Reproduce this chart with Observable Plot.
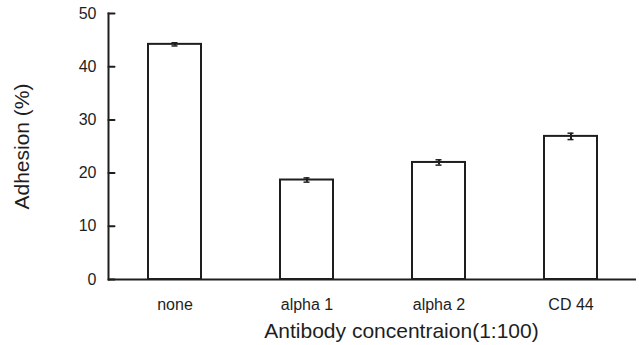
<!DOCTYPE html>
<html>
<head>
<meta charset="utf-8">
<script src="https://cdn.jsdelivr.net/npm/d3@7"></script>
<script src="https://cdn.jsdelivr.net/npm/@observablehq/plot@0.6"></script>
<style>
  html, body { margin: 0; padding: 0; background: #fff; }
  #chart svg { display: block; }
</style>
</head>
<body>
<div id="chart"></div>
<script>
const categories = ["none", "alpha 1", "alpha 2", "CD 44"];
const values = [44.2, 18.7, 22.0, 26.9];
const errors = [0.3, 0.4, 0.5, 0.6];
const yTicks = [0, 10, 20, 30, 40, 50];
const xTitle = "Antibody concentraion(1:100)";
const yTitle = "Adhesion (%)";

const data = categories.map((c, i) => ({cat: c, v: values[i], e: errors[i]}));
const ink = "#1e1e1e";
const font = "'Liberation Sans', Arial, sans-serif";
const tickShape = {draw(context, l) { context.moveTo(0, 0); context.lineTo(0, -l); }};

const chart = Plot.plot({
  width: 639,
  height: 345,
  marginLeft: 108,
  marginRight: 3,
  marginTop: 13,
  marginBottom: 66,
  style: {fontFamily: font, background: "#fff", color: ink},
  x: {domain: categories, paddingInner: 0.6, paddingOuter: 0.3, label: null},
  y: {domain: [0, 50], label: null},
  marks: [
    Plot.barY(data, {x: "cat", y: "v", fill: "white", stroke: ink, strokeWidth: 2}),
    Plot.ruleX(data, {x: "cat", y1: d => d.v - d.e, y2: d => d.v + d.e, stroke: ink, strokeWidth: 2}),
    Plot.tickY(data, {x: "cat", y: d => d.v - d.e, stroke: ink, strokeWidth: 1.5, insetLeft: 23.5, insetRight: 23.5}),
    Plot.tickY(data, {x: "cat", y: d => d.v + d.e, stroke: ink, strokeWidth: 1.5, insetLeft: 23.5, insetRight: 23.5}),
    Plot.vector(yTicks, {y: d => d, frameAnchor: "left", rotate: 90, length: 6, anchor: "start", shape: tickShape, stroke: ink, strokeWidth: 2}),
    Plot.axisY(yTicks, {anchor: "left", tickSize: 0, tickPadding: 12, fontSize: 16, fill: ink, label: null}),
    Plot.frame({anchor: "left", stroke: ink, strokeWidth: 2}),
    Plot.ruleY([0], {stroke: ink, strokeWidth: 2}),
    Plot.axisX({anchor: "bottom", tickSize: 0, tickPadding: 19, fontSize: 16, fill: ink, label: null}),
    Plot.text([xTitle], {frameAnchor: "bottom", dx: 29, dy: 58, fontSize: 21, fill: ink, text: d => d}),
    Plot.text([yTitle], {frameAnchor: "left", textAnchor: "middle", dx: -86, rotate: -90, fontSize: 21, fill: ink, text: d => d})
  ]
});
document.getElementById("chart").appendChild(chart);
</script>
</body>
</html>
